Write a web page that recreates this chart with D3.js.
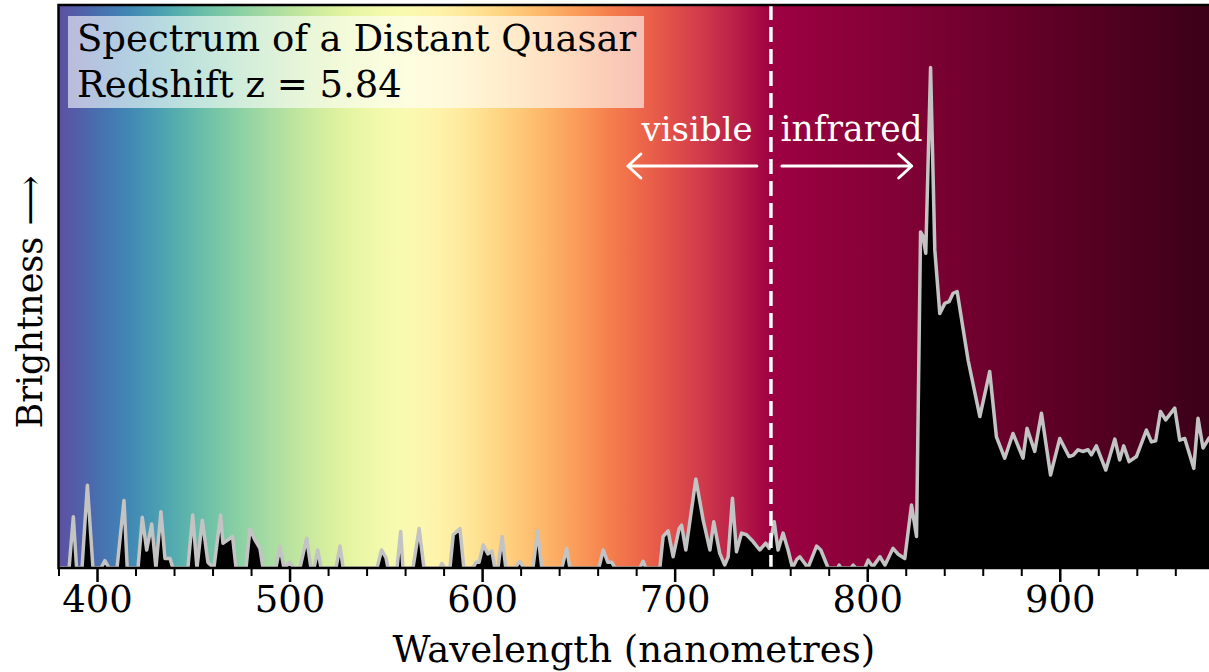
<!DOCTYPE html>
<html>
<head>
<meta charset="utf-8">
<script src="https://cdn.jsdelivr.net/npm/d3@7"></script>
<style>
  body { margin: 0; background: #fff; }
  text { font-family: "DejaVu Serif", serif; }
</style>
</head>
<body>
<svg width="1209" height="672"></svg>
<script>
// spectrum samples (nm) and brightness (arbitrary units)
var wavelength = [380.0, 385.5, 387.7, 389.4, 392.2, 395.0, 397.9, 402.1, 404.1, 406.2,
  410.4, 414.0, 415.7, 421.3, 423.5, 425.8, 428.4, 430.6, 433.2, 435.3,
  437.9, 439.4, 447.2, 449.7, 451.9, 454.7, 457.6, 460.7, 464.2, 465.4,
  468.0, 470.4, 472.2, 477.4, 479.4, 482.0, 484.6, 486.2, 492.9, 495.0,
  497.1, 500.2, 502.3, 505.4, 508.9, 511.1, 512.7, 514.6, 516.4, 524.1,
  526.2, 527.8, 545.4, 547.8, 550.1, 551.1, 555.8, 557.7, 558.9, 564.1,
  567.3, 569.8, 578.1, 579.1, 580.7, 583.3, 585.0, 588.5, 590.5, 595.2,
  596.8, 598.4, 600.6, 603.0, 605.1, 606.6, 608.2, 610.4, 612.3, 617.0,
  619.6, 621.7, 626.4, 628.8, 631.0, 641.4, 643.9, 645.6, 660.6, 662.9,
  665.3, 667.4, 669.0, 681.9, 683.6, 685.0, 692.3, 694.0, 696.6, 699.2,
  702.3, 703.6, 705.8, 711.0, 714.8, 718.3, 720.3, 723.4, 726.0, 727.8,
  730.0, 732.1, 734.7, 737.3, 740.7, 744.2, 747.3, 749.1, 751.7, 753.7,
  756.3, 758.9, 761.2, 763.4, 765.0, 767.6, 769.2, 773.7, 775.9, 779.7,
  784.7, 785.4, 786.3, 791.5, 792.7, 794.1, 798.8, 800.5, 802.9, 806.6,
  809.2, 813.4, 815.9, 819.5, 823.0, 825.6, 827.7, 829.0, 830.4, 832.9,
  835.1, 837.7, 840.3, 842.5, 844.6, 846.7, 852.4, 858.5, 863.6, 867.1,
  871.4, 875.7, 880.9, 883.0, 887.0, 890.5, 895.2, 900.0, 904.8, 906.9,
  909.5, 911.9, 914.7, 916.4, 919.0, 923.9, 928.6, 931.1, 933.2, 936.0,
  939.8, 945.0, 947.6, 949.8, 952.3, 955.0, 959.7, 962.3, 964.9, 969.6,
  971.8, 974.4, 977.4, 980.0];
var brightness = [0, 0, 0.091, 0, 0, 0.147, 0, 0, 0.013, 0,
  0, 0.120, 0, 0, 0.090, 0.032, 0.078, 0, 0.100, 0.017,
  0.017, 0, 0, 0.094, 0, 0.085, 0.010, 0, 0.094, 0.044,
  0.050, 0.056, 0, 0, 0.069, 0.050, 0.035, 0, 0, 0.038,
  0, 0.010, 0, 0, 0.053, 0, 0, 0.032, 0, 0,
  0.039, 0, 0, 0.032, 0.018, 0, 0, 0.065, 0, 0,
  0.070, 0, 0, 0.008, 0, 0, 0.059, 0.070, 0, 0,
  0.010, 0.010, 0.041, 0.025, 0.030, 0, 0, 0.056, 0, 0,
  0.012, 0, 0, 0.066, 0, 0, 0.035, 0, 0, 0.032,
  0.010, 0.010, 0, 0, 0.012, 0, 0, 0.056, 0.066, 0.020,
  0.070, 0.076, 0.032, 0.158, 0.085, 0.032, 0.082, 0.026, 0.005, 0.020,
  0.124, 0.029, 0.062, 0.059, 0.047, 0.032, 0.044, 0.035, 0.082, 0.032,
  0.062, 0.032, 0, 0.015, 0.020, 0.008, 0, 0.039, 0.032, 0,
  0, 0.005, 0, 0, 0.005, 0, 0, 0.014, 0.002, 0.020,
  0.005, 0.035, 0.025, 0.017, 0.112, 0.056, 0.597, 0.589, 0.559, 0.889,
  0.565, 0.452, 0.470, 0.473, 0.488, 0.491, 0.369, 0.269, 0.349, 0.233,
  0.195, 0.239, 0.195, 0.248, 0.207, 0.275, 0.165, 0.230, 0.198, 0.200,
  0.210, 0.207, 0.210, 0.201, 0.217, 0.174, 0.229, 0.192, 0.217, 0.189,
  0.198, 0.245, 0.224, 0.226, 0.278, 0.263, 0.284, 0.227, 0.230, 0.177,
  0.266, 0.213, 0.230, 0.240];

var majorTicks = [400, 500, 600, 700, 800, 900];
var minorTicks = [380, 420, 440, 460, 480, 520, 540, 560, 580, 620, 640, 660, 680,
  720, 740, 760, 780, 820, 840, 860, 880, 920, 940, 960];
var titleLines = ['Spectrum of a Distant Quasar', 'Redshift z = 5.84'];
var visibleEdge = 750;   // nm, visible / infrared boundary

var svg = d3.select('svg');
var width = +svg.attr('width');
var height = +svg.attr('height');
var plot = {l: 58.5, t: 5, r: width, b: 568};
var fontSize = 37;

var xScale = d3.scaleLinear().domain([380, 977.5]).range([plot.l, plot.r]);
var yScale = d3.scaleLinear().domain([0, 1]).range([plot.b, plot.t]);

// background: reversed Spectral over the visible band, then darkening into the infrared
var defs = svg.append('defs');
var grad = defs.append('linearGradient')
    .attr('id', 'bg')
    .attr('gradientUnits', 'userSpaceOnUse')
    .attr('x1', xScale(380)).attr('x2', xScale(980))
    .attr('y1', 0).attr('y2', 0);
var stops = [];
for (var w = 380; w <= visibleEdge; w += 5) {
    stops.push({w: w, c: d3.interpolateSpectral(1 - (w - 380) / (visibleEdge - 380))});
}
var irColor = d3.interpolateRgb('#9e0142', '#3a0016');
for (var w2 = visibleEdge + 10; w2 <= 980; w2 += 10) {
    stops.push({w: w2, c: irColor((w2 - visibleEdge) / (980 - visibleEdge))});
}
grad.selectAll('stop').data(stops).enter().append('stop')
    .attr('offset', d => (d.w - 380) / 600)
    .attr('stop-color', d => d.c);

defs.append('clipPath').attr('id', 'clip')
  .append('rect')
    .attr('x', plot.l).attr('y', plot.t)
    .attr('width', plot.r - plot.l).attr('height', plot.b - plot.t);

var g = svg.append('g').attr('clip-path', 'url(#clip)');

g.append('rect')
    .attr('x', plot.l).attr('y', plot.t)
    .attr('width', plot.r - plot.l).attr('height', plot.b - plot.t)
    .attr('fill', 'url(#bg)');

var data = wavelength.map((w, i) => ({w: w, v: brightness[i]}));

var area = d3.area()
    .x(d => xScale(d.w))
    .y0(yScale(0))
    .y1(d => yScale(d.v));
var line = d3.line()
    .x(d => xScale(d.w))
    .y(d => yScale(d.v));

g.append('path')
    .attr('d', area(data))
    .attr('fill', '#000');
g.append('path')
    .attr('d', line(data))
    .attr('fill', 'none')
    .attr('stroke', '#c3c3c3')
    .attr('stroke-width', 3.5)
    .attr('stroke-linejoin', 'round');

// boundary line
g.append('line')
    .attr('x1', xScale(visibleEdge)).attr('x2', xScale(visibleEdge))
    .attr('y1', plot.t).attr('y2', plot.b)
    .attr('stroke', '#fff')
    .attr('stroke-width', 3.5)
    .attr('stroke-dasharray', '15,7');

// visible / infrared labels and arrows
var arrowY = 166;
svg.append('text')
    .attr('x', xScale(visibleEdge - 9.5)).attr('y', 141)
    .attr('text-anchor', 'end')
    .attr('fill', '#fff')
    .attr('font-size', 34)
    .text('visible');
svg.append('text')
    .attr('x', xScale(visibleEdge + 5)).attr('y', 141)
    .attr('fill', '#fff')
    .attr('font-size', 34.5)
    .text('infrared');

function arrow(from, to) {
    var x0 = xScale(from), x1 = xScale(to);
    var dir = x1 > x0 ? 1 : -1;
    var p = d3.path();
    p.moveTo(x0, arrowY); p.lineTo(x1, arrowY);
    p.moveTo(x1 - dir * 13, arrowY - 12); p.lineTo(x1, arrowY); p.lineTo(x1 - dir * 13, arrowY + 12);
    svg.append('path')
        .attr('d', p.toString())
        .attr('fill', 'none')
        .attr('stroke', '#fff')
        .attr('stroke-width', 3)
        .attr('stroke-linecap', 'round')
        .attr('stroke-linejoin', 'round');
}
arrow(visibleEdge - 7.3, visibleEdge - 74.3);
arrow(visibleEdge + 5.7, visibleEdge + 73.1);

// title box
svg.append('rect')
    .attr('x', 68).attr('y', 16)
    .attr('width', 576).attr('height', 92)
    .attr('fill', '#fff')
    .attr('fill-opacity', 0.6);
svg.selectAll('.title')
    .data(titleLines)
    .enter()
    .append('text')
    .attr('class', 'title')
    .attr('x', 77)
    .attr('y', (d, i) => 51 + i * 46)
    .attr('font-size', fontSize)
    .attr('fill', '#000')
    .text(d => d);

// spines
svg.append('path')
    .attr('d', 'M' + plot.r + ',' + plot.t + 'H' + plot.l + 'V' + plot.b + 'H' + plot.r)
    .attr('fill', 'none')
    .attr('stroke', '#000')
    .attr('stroke-width', 2.5);

// axes
var xAxis = svg.append('g')
    .attr('transform', 'translate(0,' + plot.b + ')')
    .call(d3.axisBottom(xScale).tickValues(majorTicks).tickSize(14).tickPadding(4));
xAxis.select('.domain').remove();
xAxis.selectAll('line').attr('stroke-width', 2.5);
xAxis.selectAll('text')
    .attr('font-size', fontSize)
    .attr('font-family', '"DejaVu Serif", serif')
    .attr('fill', '#000');

var xMinor = svg.append('g')
    .attr('transform', 'translate(0,' + plot.b + ')')
    .call(d3.axisBottom(xScale).tickValues(minorTicks).tickSize(8).tickFormat(''));
xMinor.select('.domain').remove();
xMinor.selectAll('line').attr('stroke-width', 2);

// axis labels
svg.append('text')
    .attr('x', (plot.l + plot.r) / 2)
    .attr('y', 662)
    .attr('text-anchor', 'middle')
    .attr('font-size', fontSize)
    .text('Wavelength (nanometres)');

svg.append('text')
    .attr('transform', 'translate(42,' + 302 + ') rotate(-90)')
    .attr('text-anchor', 'middle')
    .attr('font-size', 35)
    .text('Brightness \u27F6');
</script>
</body>
</html>
